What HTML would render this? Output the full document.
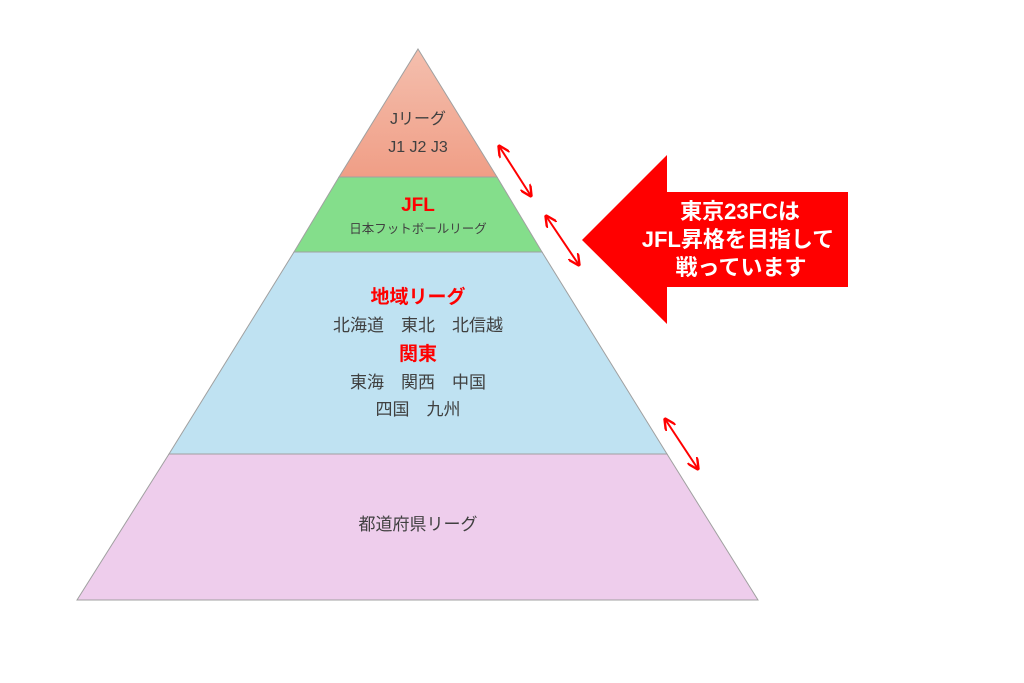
<!DOCTYPE html>
<html><head><meta charset="utf-8"><style>
html,body{margin:0;padding:0;background:#fff;}
svg{display:block}
text{font-family:"Liberation Sans","Noto Sans CJK JP",sans-serif;text-anchor:middle}
</style></head><body>
<svg width="1024" height="683" viewBox="0 0 1024 683" xmlns="http://www.w3.org/2000/svg">
<defs>
<linearGradient id="g1" x1="0" y1="0" x2="0" y2="1">
<stop offset="0" stop-color="#f4bfae"/><stop offset="1" stop-color="#f09e86"/>
</linearGradient>
<marker id="ah" viewBox="0 0 10 10" refX="9" refY="5" markerWidth="6" markerHeight="6" orient="auto-start-reverse">
<path d="M0,0 L10,5 L0,10" fill="none" stroke="#f00" stroke-width="2"/>
</marker>
</defs>
<polygon points="418,49 497,177 339,177" fill="url(#g1)" stroke="#a0a0a0" stroke-width="1"/>
<polygon points="339,177 497,177 542,252 294,252" fill="#84de8b" stroke="#a0a0a0" stroke-width="1"/>
<polygon points="294,252 542,252 667,454 169,454" fill="#bfe2f2" stroke="#a0a0a0" stroke-width="1"/>
<polygon points="169,454 667,454 758,600 77,600" fill="#eecdec" stroke="#a0a0a0" stroke-width="1"/>
<g font-size="16" fill="#404040">
<text x="418" y="124">Jリーグ</text>
<text x="418" y="152">J1 J2 J3</text>
<text x="418" y="233" font-size="12.5">日本フットボールリーグ</text>
<text x="418" y="331" font-size="17">北海道　東北　北信越</text>
<text x="418" y="388" font-size="17">東海　関西　中国</text>
<text x="418" y="415" font-size="17">四国　九州</text>
<text x="418" y="530" font-size="17">都道府県リーグ</text>
</g>
<g font-size="19" font-weight="bold" fill="#f00">
<text x="418" y="211">JFL</text>
<text x="418" y="303">地域リーグ</text>
<text x="418" y="360">関東</text>
</g>
<g stroke="#f00" stroke-width="2" marker-start="url(#ah)" marker-end="url(#ah)">
<line x1="499" y1="146" x2="531" y2="196"/>
<line x1="546" y1="216" x2="579" y2="265"/>
<line x1="665" y1="419" x2="698" y2="469"/>
</g>
<polygon points="582,240 667,155 667,192 848,192 848,287 667,287 667,324" fill="#f00"/>
<g font-size="22" font-weight="bold" fill="#fff">
<text x="740" y="219">東京23FCは</text>
<text x="738" y="247">JFL昇格を目指して</text>
<text x="741" y="275">戦っています</text>
</g>
</svg>
</body></html>
